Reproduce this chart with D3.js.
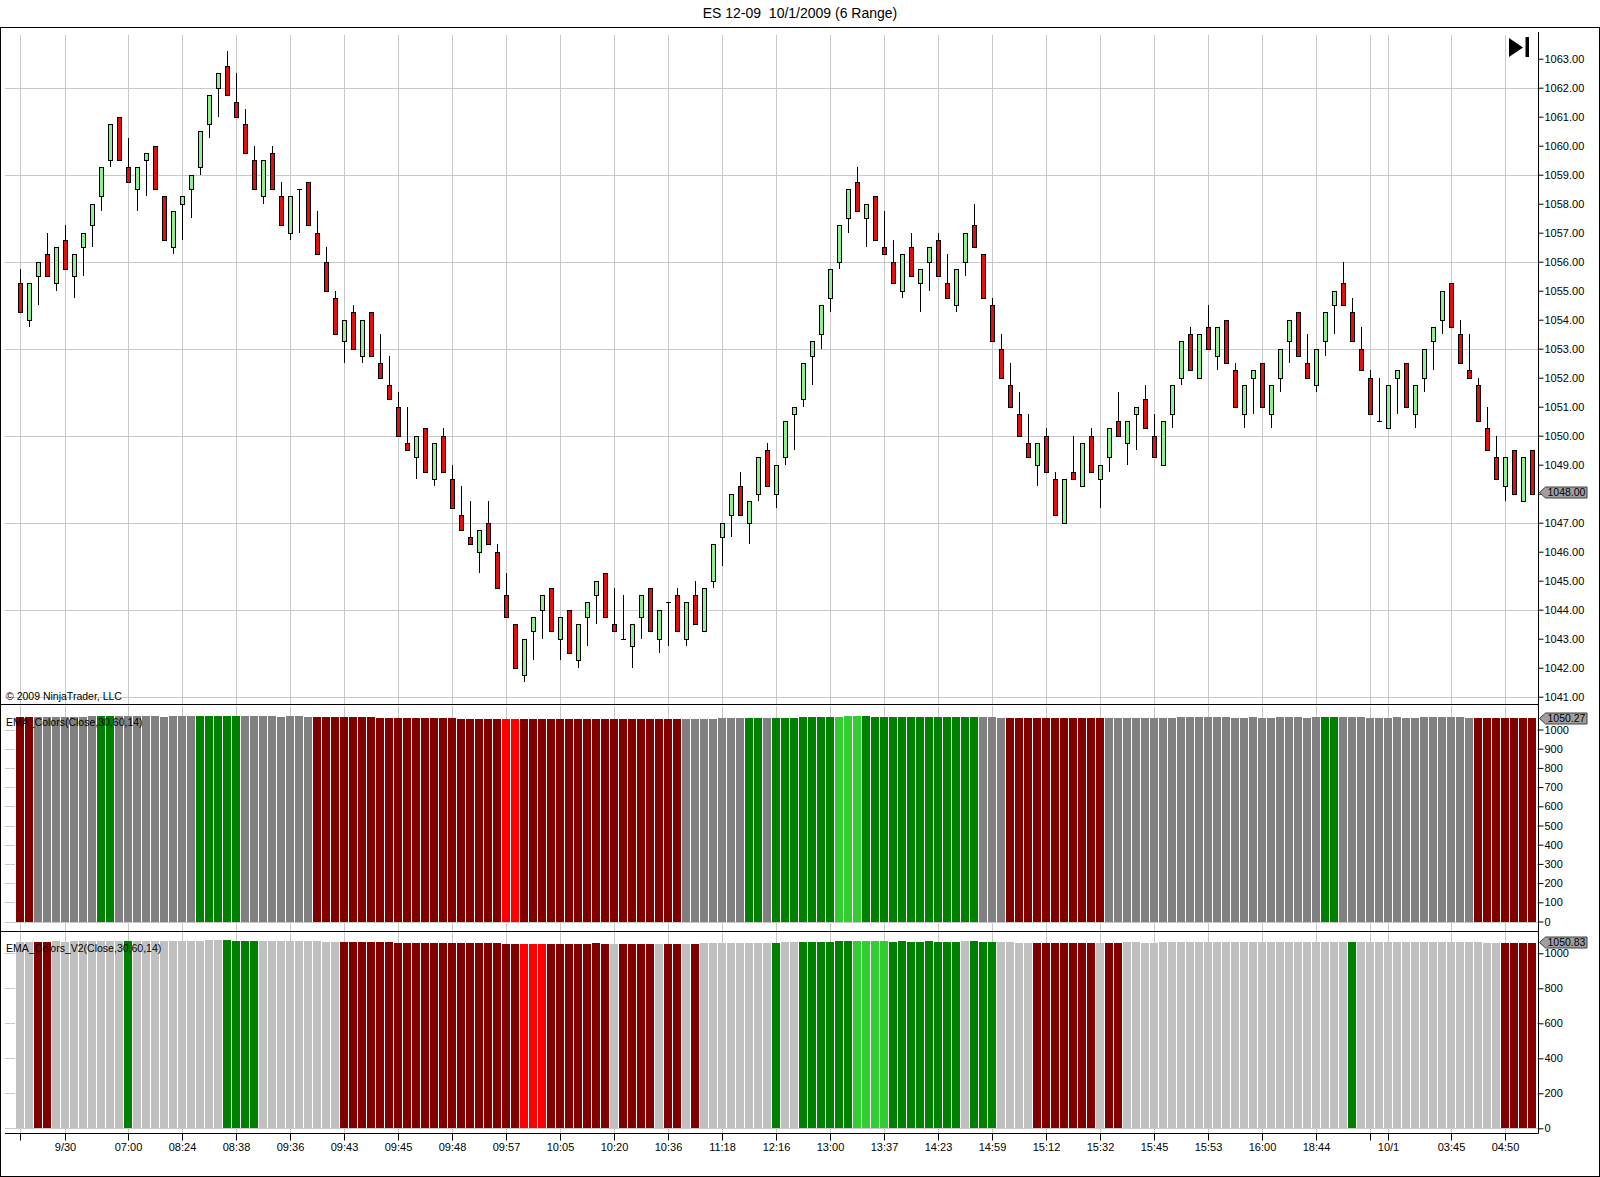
<!DOCTYPE html>
<html>
<head>
<meta charset="utf-8">
<script src="https://cdn.jsdelivr.net/npm/d3@7"></script>
<style>
  html, body { margin: 0; padding: 0; background: #fff; }
  svg { display: block; font-family: "Liberation Sans", Arial, sans-serif; }
  .axis text { font-size: 11px; fill: #000; }
  .axis line { stroke: #000; }
</style>
</head>
<body>
<div id="chart"></div>
<script>
// ES 12-09 6 range bars
const opens = [
  1055.25, 1054.0, 1055.5, 1056.25, 1055.25, 1056.75, 1055.5, 1056.5, 1057.25, 1058.25, 1059.5, 1061.0,
  1059.25, 1058.5, 1059.5, 1060.0, 1058.25, 1056.5, 1058.0, 1058.5, 1059.25, 1060.75, 1062.0, 1062.75,
  1061.5, 1060.75, 1059.5, 1058.25, 1059.75, 1058.25, 1057.0, 1058.5, 1058.75, 1057.0, 1056.0, 1054.75,
  1053.25, 1054.25, 1052.75, 1054.25, 1052.5, 1051.75, 1051.0, 1049.75, 1049.25, 1050.25, 1048.5, 1050.0,
  1048.5, 1047.25, 1046.5, 1046.0, 1047.0, 1046.0, 1044.5, 1043.5, 1041.75, 1043.25, 1044.0, 1044.75,
  1043.0, 1044.0, 1042.25, 1043.75, 1044.5, 1045.25, 1043.5, 1043.0, 1042.75, 1043.75, 1044.75, 1043.0,
  1044.25, 1044.5, 1043.0, 1044.5, 1043.25, 1045.0, 1046.5, 1047.25, 1048.25, 1047.0, 1048.0, 1049.5,
  1048.0, 1049.25, 1050.75, 1051.25, 1052.75, 1053.5, 1054.75, 1056.0, 1057.5, 1058.75, 1057.5, 1058.25,
  1056.5, 1056.0, 1055.0, 1056.5, 1055.25, 1056.0, 1056.75, 1055.25, 1054.5, 1056.0, 1057.25, 1056.25,
  1054.5, 1053.0, 1051.75, 1050.75, 1049.75, 1049.0, 1050.0, 1048.5, 1047.0, 1048.75, 1048.25, 1050.0,
  1048.5, 1049.25, 1050.5, 1049.75, 1050.75, 1051.25, 1050.0, 1049.0, 1050.75, 1052.0, 1053.5, 1052.0,
  1053.75, 1052.75, 1054.0, 1052.25, 1050.75, 1052.0, 1052.5, 1050.75, 1052.0, 1053.25, 1054.25, 1052.5,
  1051.75, 1053.25, 1054.5, 1055.25, 1054.25, 1053.0, 1052.0, 1050.5, 1050.25, 1052.0, 1052.5, 1050.75,
  1052.0, 1053.25, 1054.0, 1055.25, 1053.5, 1052.25, 1051.75, 1050.25, 1049.25, 1048.25, 1049.5, 1047.75,
  1049.5
];
const highs = [
  1055.75, 1055.25, 1056.0, 1057.0, 1056.5, 1057.25, 1056.25, 1057.0, 1058.0, 1059.25, 1060.75, 1061.0,
  1060.25, 1059.25, 1059.75, 1060.0, 1058.25, 1057.75, 1058.25, 1059.0, 1060.5, 1061.75, 1062.5, 1063.25,
  1062.5, 1061.25, 1060.0, 1059.5, 1060.0, 1058.75, 1058.25, 1058.5, 1058.75, 1057.75, 1056.5, 1055.0,
  1054.0, 1054.5, 1054.0, 1054.25, 1053.5, 1052.75, 1051.5, 1051.0, 1050.0, 1050.25, 1049.75, 1050.25,
  1049.0, 1048.25, 1047.75, 1046.75, 1047.75, 1046.25, 1045.25, 1043.5, 1043.0, 1043.75, 1044.5, 1044.75,
  1043.75, 1044.0, 1043.5, 1044.25, 1045.0, 1045.25, 1044.75, 1044.5, 1043.5, 1044.5, 1044.75, 1044.0,
  1044.25, 1044.75, 1044.25, 1045.0, 1044.75, 1046.25, 1047.0, 1048.0, 1048.75, 1047.75, 1049.25, 1049.75,
  1049.0, 1050.5, 1051.0, 1052.5, 1053.25, 1054.5, 1055.75, 1057.25, 1058.5, 1059.25, 1058.0, 1058.25,
  1057.75, 1056.75, 1056.25, 1057.0, 1055.75, 1056.5, 1057.0, 1056.25, 1055.75, 1057.0, 1058.0, 1056.25,
  1054.75, 1053.5, 1052.5, 1051.5, 1050.75, 1049.75, 1050.25, 1048.75, 1048.5, 1050.0, 1049.75, 1050.25,
  1049.0, 1050.25, 1051.5, 1050.5, 1051.0, 1051.75, 1050.75, 1050.5, 1051.75, 1053.25, 1053.75, 1053.5,
  1054.5, 1053.75, 1054.0, 1052.5, 1051.75, 1052.25, 1052.5, 1051.75, 1053.0, 1054.0, 1054.25, 1053.5,
  1053.0, 1054.25, 1055.0, 1056.0, 1054.75, 1053.75, 1052.25, 1052.0, 1051.75, 1052.25, 1052.5, 1051.75,
  1053.0, 1053.75, 1055.0, 1055.25, 1054.0, 1053.5, 1052.0, 1051.0, 1050.0, 1049.25, 1049.5, 1049.25,
  1049.5
];
const lows = [
  1054.25, 1053.75, 1054.5, 1055.5, 1055.0, 1055.75, 1054.75, 1055.5, 1056.5, 1057.75, 1059.25, 1059.5,
  1058.75, 1057.75, 1058.25, 1058.5, 1056.75, 1056.25, 1056.75, 1057.5, 1059.0, 1060.25, 1061.0, 1061.75,
  1061.0, 1059.75, 1058.5, 1058.0, 1058.5, 1057.25, 1056.75, 1057.0, 1057.25, 1056.25, 1055.0, 1053.5,
  1052.5, 1053.0, 1052.5, 1052.75, 1052.0, 1051.25, 1050.0, 1049.5, 1048.5, 1048.75, 1048.25, 1048.75,
  1047.5, 1046.75, 1046.25, 1045.25, 1046.25, 1044.75, 1043.75, 1042.0, 1041.5, 1042.25, 1043.0, 1043.25,
  1042.25, 1042.5, 1042.0, 1042.75, 1043.5, 1043.75, 1043.25, 1043.0, 1042.0, 1043.0, 1043.25, 1042.5,
  1042.75, 1043.25, 1042.75, 1043.5, 1043.25, 1044.75, 1045.5, 1046.5, 1047.25, 1046.25, 1047.75, 1048.25,
  1047.5, 1049.0, 1049.5, 1051.0, 1051.75, 1053.0, 1054.25, 1055.75, 1057.0, 1057.75, 1056.5, 1056.75,
  1056.25, 1055.25, 1054.75, 1055.5, 1054.25, 1055.0, 1055.5, 1054.75, 1054.25, 1055.5, 1056.5, 1054.75,
  1053.25, 1052.0, 1051.0, 1050.0, 1049.25, 1048.25, 1048.75, 1047.25, 1047.0, 1048.5, 1048.25, 1048.75,
  1047.5, 1048.75, 1050.0, 1049.0, 1049.5, 1050.25, 1049.25, 1049.0, 1050.25, 1051.75, 1052.25, 1052.0,
  1053.0, 1052.25, 1052.5, 1051.0, 1050.25, 1050.75, 1051.0, 1050.25, 1051.5, 1052.5, 1052.75, 1052.0,
  1051.5, 1052.75, 1053.5, 1054.5, 1053.25, 1052.25, 1050.75, 1050.5, 1050.25, 1050.75, 1051.0, 1050.25,
  1051.5, 1052.25, 1053.5, 1053.75, 1052.5, 1052.0, 1050.5, 1049.5, 1048.5, 1047.75, 1048.0, 1047.75,
  1048.0
];
const closes = [
  1054.25, 1055.25, 1056.0, 1055.5, 1056.5, 1055.75, 1056.25, 1057.0, 1058.0, 1059.25, 1060.75, 1059.5,
  1058.75, 1059.25, 1059.75, 1058.5, 1056.75, 1057.75, 1058.25, 1059.0, 1060.5, 1061.75, 1062.5, 1061.75,
  1061.0, 1059.75, 1058.5, 1059.5, 1058.5, 1057.25, 1058.25, 1058.5, 1057.25, 1056.25, 1055.0, 1053.5,
  1054.0, 1053.0, 1054.0, 1052.75, 1052.0, 1051.25, 1050.0, 1049.5, 1050.0, 1048.75, 1049.75, 1048.75,
  1047.5, 1046.75, 1046.25, 1046.75, 1046.25, 1044.75, 1043.75, 1042.0, 1043.0, 1043.75, 1044.5, 1043.25,
  1043.75, 1042.5, 1043.5, 1044.25, 1045.0, 1043.75, 1043.25, 1043.0, 1043.5, 1044.5, 1043.25, 1044.0,
  1044.25, 1043.25, 1044.25, 1043.5, 1044.75, 1046.25, 1047.0, 1048.0, 1047.25, 1047.75, 1049.25, 1048.25,
  1049.0, 1050.5, 1051.0, 1052.5, 1053.25, 1054.5, 1055.75, 1057.25, 1058.5, 1057.75, 1058.0, 1056.75,
  1056.25, 1055.25, 1056.25, 1055.5, 1055.75, 1056.5, 1055.5, 1054.75, 1055.75, 1057.0, 1056.5, 1054.75,
  1053.25, 1052.0, 1051.0, 1050.0, 1049.25, 1049.75, 1048.75, 1047.25, 1048.5, 1048.5, 1049.75, 1048.75,
  1049.0, 1050.25, 1050.0, 1050.5, 1051.0, 1050.25, 1049.25, 1050.5, 1051.75, 1053.25, 1052.25, 1053.5,
  1053.0, 1053.75, 1052.5, 1051.0, 1051.75, 1052.25, 1051.0, 1051.75, 1053.0, 1054.0, 1052.75, 1052.0,
  1053.0, 1054.25, 1055.0, 1054.5, 1053.25, 1052.25, 1050.75, 1050.5, 1051.75, 1052.25, 1051.0, 1051.75,
  1053.0, 1053.75, 1055.0, 1053.75, 1052.5, 1052.0, 1050.5, 1049.5, 1048.5, 1049.25, 1048.0, 1049.25,
  1048.0
];

// colour runs of the two indicator panels: [colour key, number of bars]
const emaColorRuns = [
  ["dr", 2], ["gy", 7], ["gn", 2], ["gy", 9], ["gn", 5], ["gy", 8], ["dr", 21], ["rd", 2],
  ["dr", 18], ["gy", 7], ["gn", 2], ["gy", 1], ["gn", 7], ["lm", 3], ["gn", 13], ["gy", 3],
  ["dr", 11], ["gy", 24], ["gn", 2], ["gy", 15], ["dr", 7]
];
const emaV2ColorRuns = [
  ["sv", 2], ["dr", 2], ["sv", 8], ["gn", 1], ["sv", 10], ["gn", 4], ["sv", 9], ["dr", 20],
  ["rd", 3], ["dr", 7], ["sv", 1], ["dr", 4], ["sv", 1], ["dr", 2], ["sv", 1], ["dr", 1],
  ["sv", 8], ["gn", 1], ["sv", 2], ["gn", 6], ["lm", 4], ["gn", 8], ["sv", 1], ["gn", 3],
  ["sv", 4], ["dr", 7], ["sv", 1], ["dr", 2], ["sv", 25], ["gn", 1], ["sv", 16], ["dr", 4]
];
const colorMap = { dr: "#800000", rd: "#ff0000", gy: "#808080", sv: "#c0c0c0", gn: "#008000", lm: "#32cd32" };

const xTickBars   = [0, 5, 12, 18, 24, 30, 36, 42, 48, 54, 60, 66, 72, 78, 84, 90, 96, 102, 108, 114, 120, 126, 132, 138, 144, 150, 152, 159, 165];
const xTickLabels = ["", "9/30", "07:00", "08:24", "08:38", "09:36", "09:43", "09:45", "09:48", "09:57", "10:05", "10:20", "10:36", "11:18", "12:16",
                     "13:00", "13:37", "14:23", "14:59", "15:12", "15:32", "15:45", "15:53", "16:00", "18:44", "", "10/1", "03:45", "04:50"];
const priceTicks = [1041, 1042, 1043, 1044, 1045, 1046, 1047, 1048, 1049, 1050, 1051, 1052, 1053, 1054, 1055, 1056, 1057, 1058, 1059, 1060, 1061, 1062, 1063];
const priceGrid  = [1041, 1044, 1047, 1050, 1053, 1056, 1059, 1062];
const ema1Ticks  = [0, 100, 200, 300, 400, 500, 600, 700, 800, 900, 1000];
const ema2Ticks  = [0, 200, 400, 600, 800, 1000];
const lastPrice = 1048.00, lastEma1 = 1050.27, lastEma2 = 1050.83;

function expandRuns(runs) {
  const out = [];
  runs.forEach(function (r) { for (let k = 0; k < r[1]; k++) out.push(r[0]); });
  return out;
}
const emaColors = expandRuns(emaColorRuns);
const emaV2Colors = expandRuns(emaV2ColorRuns);

const W = 1600, H = 1177;
const axisX = 1538.5;
const plotLeft = 5;

const bars = closes.map(function (c, i) {
  return { i: i, o: opens[i], h: highs[i], l: lows[i], c: c, c1: emaColors[i], c2: emaV2Colors[i] };
});

const x = d3.scaleLinear().domain([0, 168]).range([20.3, 1532.3]);
const yPrice = d3.scaleLinear().domain([1041, 1062]).range([696.7, 87.7]);
const yEma1 = d3.scaleLinear().domain([0, 1000]).range([921.5, 729.5]);
const yEma2 = d3.scaleLinear().domain([0, 1000]).range([1128.3, 953.3]);

const panels = [
  { top: 35, bottom: 704 },
  { top: 706, bottom: 931 },
  { top: 932, bottom: 1133 }
];

const px = function (i) { return Math.round(x(i)) + 0.5; };

const svg = d3.select("#chart").append("svg")
  .attr("width", W).attr("height", H);

// title
svg.append("text")
  .attr("x", 800).attr("y", 18)
  .attr("text-anchor", "middle")
  .style("font-size", "14px")
  .style("white-space", "pre")
  .text("ES 12-09  10/1/2009 (6 Range)");

// outer frame
svg.append("rect")
  .attr("x", 0.5).attr("y", 27.5)
  .attr("width", W - 1).attr("height", H - 28)
  .attr("fill", "none").attr("stroke", "#000");

const grid = svg.append("g").attr("stroke", "#c8c8c8").attr("shape-rendering", "crispEdges");

// vertical grid lines in every panel
panels.forEach(function (p) {
  grid.selectAll(null)
    .data(xTickBars)
    .enter().append("line")
    .attr("x1", d => px(d)).attr("x2", d => px(d))
    .attr("y1", p.top).attr("y2", p.bottom);
});

// horizontal grid lines
function hGrid(ys, vals) {
  grid.selectAll(null)
    .data(vals)
    .enter().append("line")
    .attr("x1", plotLeft).attr("x2", axisX)
    .attr("y1", d => Math.round(ys(d)) + 0.5)
    .attr("y2", d => Math.round(ys(d)) + 0.5);
}
hGrid(yPrice, priceGrid);
hGrid(yEma1, ema1Ticks);
hGrid(yEma2, ema2Ticks);

// candles
const candles = svg.append("g").attr("shape-rendering", "crispEdges");

candles.selectAll(".wick")
  .data(bars)
  .enter().append("line")
  .attr("class", "wick")
  .attr("x1", d => px(d.i)).attr("x2", d => px(d.i))
  .attr("y1", d => yPrice(d.h)).attr("y2", d => yPrice(d.l))
  .attr("stroke", "#000");

candles.selectAll(".body")
  .data(bars.filter(d => d.o !== d.c))
  .enter().append("rect")
  .attr("class", "body")
  .attr("x", d => px(d.i) - 2)
  .attr("y", d => Math.round(yPrice(Math.max(d.o, d.c))) + 0.5)
  .attr("width", 4)
  .attr("height", d => Math.round(yPrice(Math.min(d.o, d.c))) - Math.round(yPrice(Math.max(d.o, d.c))))
  .attr("fill", d => d.c > d.o ? "#90ee90" : "#e01010")
  .attr("stroke", "#000");

candles.selectAll(".doji")
  .data(bars.filter(d => d.o === d.c))
  .enter().append("line")
  .attr("class", "doji")
  .attr("x1", d => px(d.i) - 2.5).attr("x2", d => px(d.i) + 2.5)
  .attr("y1", d => Math.round(yPrice(d.c)) + 0.5).attr("y2", d => Math.round(yPrice(d.c)) + 0.5)
  .attr("stroke", "#000");

// indicator histograms: a white slot per bar, then the coloured column
function drawHist(ys, key) {
  const g = svg.append("g").attr("shape-rendering", "crispEdges");
  g.selectAll(".slot")
    .data(bars)
    .enter().append("rect")
    .attr("class", "slot")
    .attr("x", d => Math.round(x(d.i)) - 5)
    .attr("width", 10)
    .attr("y", d => ys(d.c) - 2)
    .attr("height", d => ys(0) - ys(d.c) + 2)
    .attr("fill", "#fff");
  g.selectAll(".col")
    .data(bars)
    .enter().append("rect")
    .attr("class", "col")
    .attr("x", d => Math.round(x(d.i)) - 4)
    .attr("width", 8)
    .attr("y", d => ys(d.c) - 2)
    .attr("height", d => ys(0) - ys(d.c) + 2)
    .attr("fill", d => colorMap[d[key]]);
}
drawHist(yEma1, "c1");
drawHist(yEma2, "c2");

// panel separators
[704.5, 931.5].forEach(function (yy) {
  svg.append("line")
    .attr("x1", 0).attr("x2", axisX)
    .attr("y1", yy).attr("y2", yy)
    .attr("stroke", "#000");
});

// right axes
function rightAxis(ys, ticks, fmt) {
  const g = svg.append("g")
    .attr("class", "axis")
    .attr("transform", "translate(" + axisX + ",0)")
    .call(d3.axisRight(ys).tickValues(ticks).tickSize(5).tickPadding(1).tickFormat(fmt));
  g.select(".domain").remove();
  g.selectAll("text").style("font-size", "11px");
  return g;
}
rightAxis(yPrice, priceTicks, d3.format(".2f"));
rightAxis(yEma1, ema1Ticks, d3.format("d"));
rightAxis(yEma2, ema2Ticks, d3.format("d"));

svg.append("line")
  .attr("x1", axisX).attr("x2", axisX)
  .attr("y1", 32).attr("y2", 1133.5)
  .attr("stroke", "#000");

// bottom axis
const xAxis = svg.append("g")
  .attr("class", "axis")
  .attr("transform", "translate(0,1133.5)")
  .call(d3.axisBottom(x)
    .tickValues(xTickBars)
    .tickSize(7)
    .tickPadding(3)
    .tickSizeOuter(0)
    .tickFormat((d, k) => xTickLabels[k]));
xAxis.select(".domain").remove();
xAxis.selectAll(".tick").attr("transform", d => "translate(" + px(d) + ",0)");
svg.append("line")
  .attr("x1", plotLeft).attr("x2", axisX)
  .attr("y1", 1133.5).attr("y2", 1133.5)
  .attr("stroke", "#000");

// last value markers
function marker(yv, label) {
  const y0 = Math.round(yv) - 1.5;
  const g = svg.append("g");
  g.append("path")
    .attr("d", "M" + (axisX + 1) + "," + y0 + " L" + (axisX + 7) + "," + (y0 - 5.5) + " H1587 V" + (y0 + 5.5) + " H" + (axisX + 7) + " Z")
    .attr("fill", "#a0a0a0").attr("stroke", "#404040");
  g.append("text")
    .attr("x", axisX + 9).attr("y", y0 + 3.5)
    .style("font-size", "10.5px")
    .text(label);
}
marker(yPrice(lastPrice), d3.format(".2f")(lastPrice));
marker(yEma1(lastEma1), d3.format(".2f")(lastEma1));
marker(yEma2(lastEma2), d3.format(".2f")(lastEma2));

// panel labels
svg.append("text").attr("x", 6).attr("y", 726).style("font-size", "10.5px").text("EMA_Colors(Close,30,60,14)");
svg.append("text").attr("x", 6).attr("y", 952).style("font-size", "10.5px").text("EMA_Colors_V2(Close,30,60,14)");
svg.append("text").attr("x", 6).attr("y", 700).style("font-size", "10.5px").text("\u00a9 2009 NinjaTrader, LLC");

// "go to last bar" button glyph
svg.append("path")
  .attr("d", "M1509,38 L1523,47.5 L1509,57 Z")
  .attr("fill", "#000");
svg.append("rect")
  .attr("x", 1525.5).attr("y", 37).attr("width", 3.5).attr("height", 20)
  .attr("fill", "#000");
</script>
</body>
</html>
